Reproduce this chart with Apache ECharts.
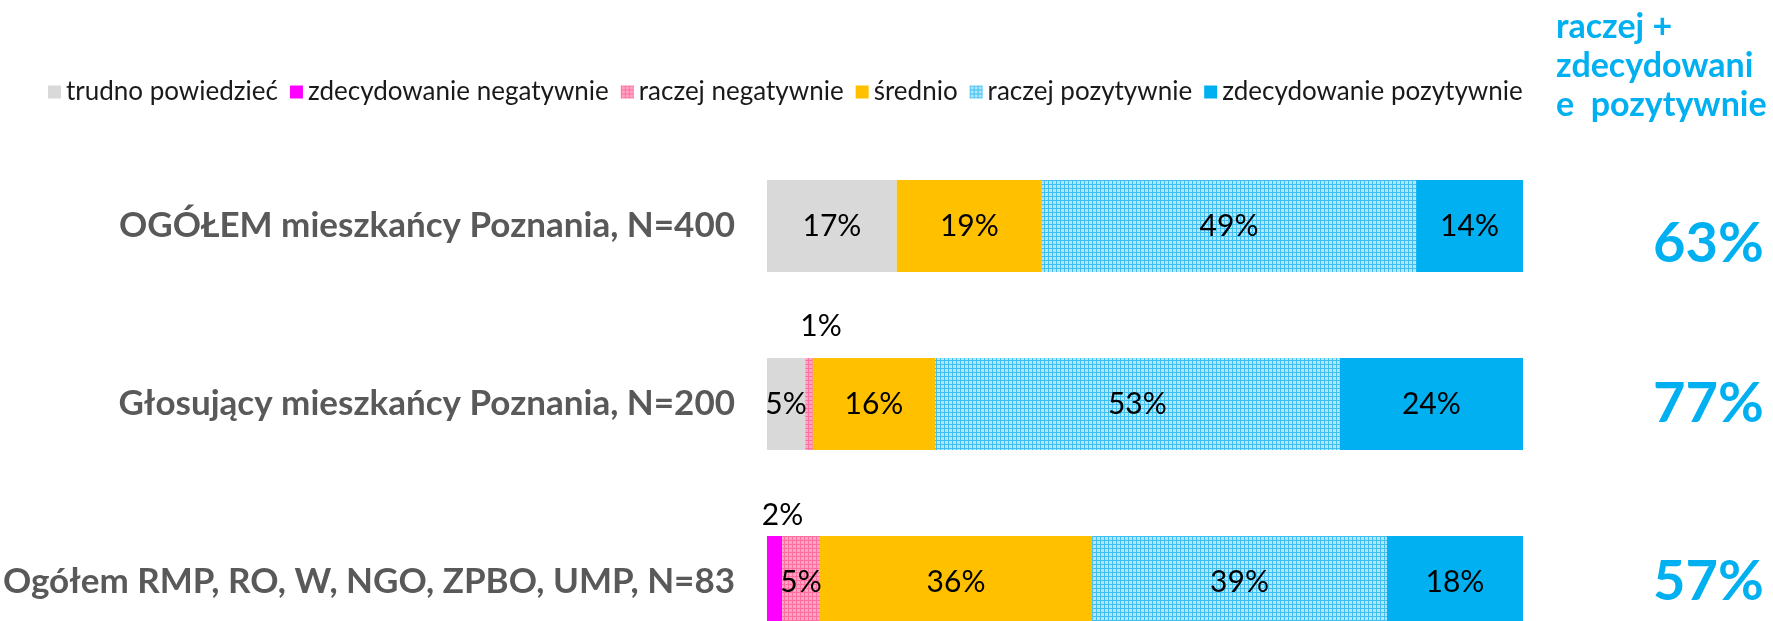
<!DOCTYPE html>
<html>
<head>
<meta charset="utf-8">
<script src="https://cdn.jsdelivr.net/npm/echarts@6/dist/echarts.min.js"></script>
<style>
html,body{margin:0;padding:0;background:#fff;}
#chart{width:1773px;height:621px;}
</style>
</head>
<body>
<div id="chart"></div>
<script>
const categories = [
  'OGÓŁEM mieszkańcy Poznania, N=400',
  'Głosujący mieszkańcy Poznania, N=200',
  'Ogółem RMP, RO, W, NGO, ZPBO, UMP, N=83'
];
const seriesNames = [
  'trudno powiedzieć',
  'zdecydowanie negatywnie',
  'raczej negatywnie',
  'średnio',
  'raczej pozytywnie',
  'zdecydowanie pozytywnie'
];
const trudnoPowiedziec = [17, 5, 0];
const zdecydowanieNegatywnie = [0, 0, 2];
const raczejNegatywnie = [0, 1, 5];
const srednio = [19, 16, 36];
const raczejPozytywnie = [49, 53, 39];
const zdecydowaniePozytywnie = [14, 24, 18];
const positiveTotals = [63, 77, 57];
const headerText = 'raczej +\nzdecydowani\ne  pozytywnie';

const allSeries = [trudnoPowiedziec, zdecydowanieNegatywnie, raczejNegatywnie, srednio, raczejPozytywnie, zdecydowaniePozytywnie];
const rowTotals = categories.map((c, i) => allSeries.reduce((s, a) => s + a[i], 0));

function makePattern(base, line, size) {
  const cv = document.createElement('canvas');
  cv.width = size; cv.height = size;
  const ctx = cv.getContext('2d');
  ctx.fillStyle = base; ctx.fillRect(0, 0, size, size);
  ctx.fillStyle = line;
  ctx.fillRect(0, 0, size, 1);
  ctx.fillRect(0, 0, 1, size);
  return { image: cv, repeat: 'repeat' };
}

const colors = [
  '#D9D9D9',
  '#FF00FF',
  makePattern('#ffa3c4', '#ff6e9f', 4),
  '#FFC000',
  makePattern('#b3e6fb', '#3dbff1', 4),
  '#00B0F0'
];

// label placement tweaks for tiny segments: [seriesIndex, rowIndex] -> label options
const labelTweaks = {
  '2-1': { position: 'top', distance: 17, offset: [12, 0] },
  '1-2': { position: 'top', distance: 6, offset: [8, 0] }
};

const series = allSeries.map((arr, si) => ({
  name: seriesNames[si],
  type: 'bar',
  stack: 'total',
  barWidth: 92,
  itemStyle: { color: colors[si] },
  label: {
    show: true,
    position: 'inside',
    color: '#000',
    fontFamily: 'Lato',
    fontSize: 30,
    formatter: p => (p.data.raw ? p.data.raw + '%' : '')
  },
  emphasis: { disabled: true },
  data: arr.map((v, ri) => {
    const item = { value: v / rowTotals[ri] * 100, raw: v };
    const t = labelTweaks[si + '-' + ri];
    if (t) item.label = t;
    return item;
  })
}));

const chart = echarts.init(document.getElementById('chart'));
chart.setOption({
  animation: false,
  backgroundColor: '#fff',
  legend: {
    left: 43,
    top: 74,
    itemWidth: 13,
    itemHeight: 13,
    itemGap: 12,
    icon: 'rect',
    data: seriesNames,
    textStyle: { fontFamily: 'Lato', fontSize: 26, color: '#1a1a1a' }
  },
  grid: { left: 767, width: 756, top: 137, height: 534, outerBoundsMode: 'none', containLabel: false },
  xAxis: { type: 'value', min: 0, max: 100, show: false },
  yAxis: [
    {
      type: 'category',
      inverse: true,
      data: categories,
      axisLine: { show: false },
      axisTick: { show: false },
      axisLabel: {
        margin: 32,
        color: '#595959',
        fontFamily: 'Lato',
        fontWeight: 'bold',
        fontSize: 35
      }
    },
    {
      type: 'category',
      inverse: true,
      position: 'right',
      data: categories,
      axisLine: { show: false },
      axisTick: { show: false },
      axisLabel: {
        margin: 130,
        formatter: (v, i) => i === 0 ? '{a|' + positiveTotals[i] + '%}' : '{b|' + positiveTotals[i] + '%}',
        rich: {
          a: { color: '#00B0F0', fontFamily: 'Lato', fontWeight: 'bold', fontSize: 56, padding: [36, 0, 0, 0] },
          b: { color: '#00B0F0', fontFamily: 'Lato', fontWeight: 'bold', fontSize: 56 }
        }
      }
    }
  ],
  graphic: [
    {
      type: 'text',
      left: 1556,
      top: 8,
      style: {
        text: headerText,
        fill: '#00B0F0',
        fontFamily: 'Lato',
        fontWeight: 'bold',
        fontSize: 34,
        lineHeight: 39,
        align: 'center'
      }
    }
  ],
  series: series
});
</script>
</body>
</html>
